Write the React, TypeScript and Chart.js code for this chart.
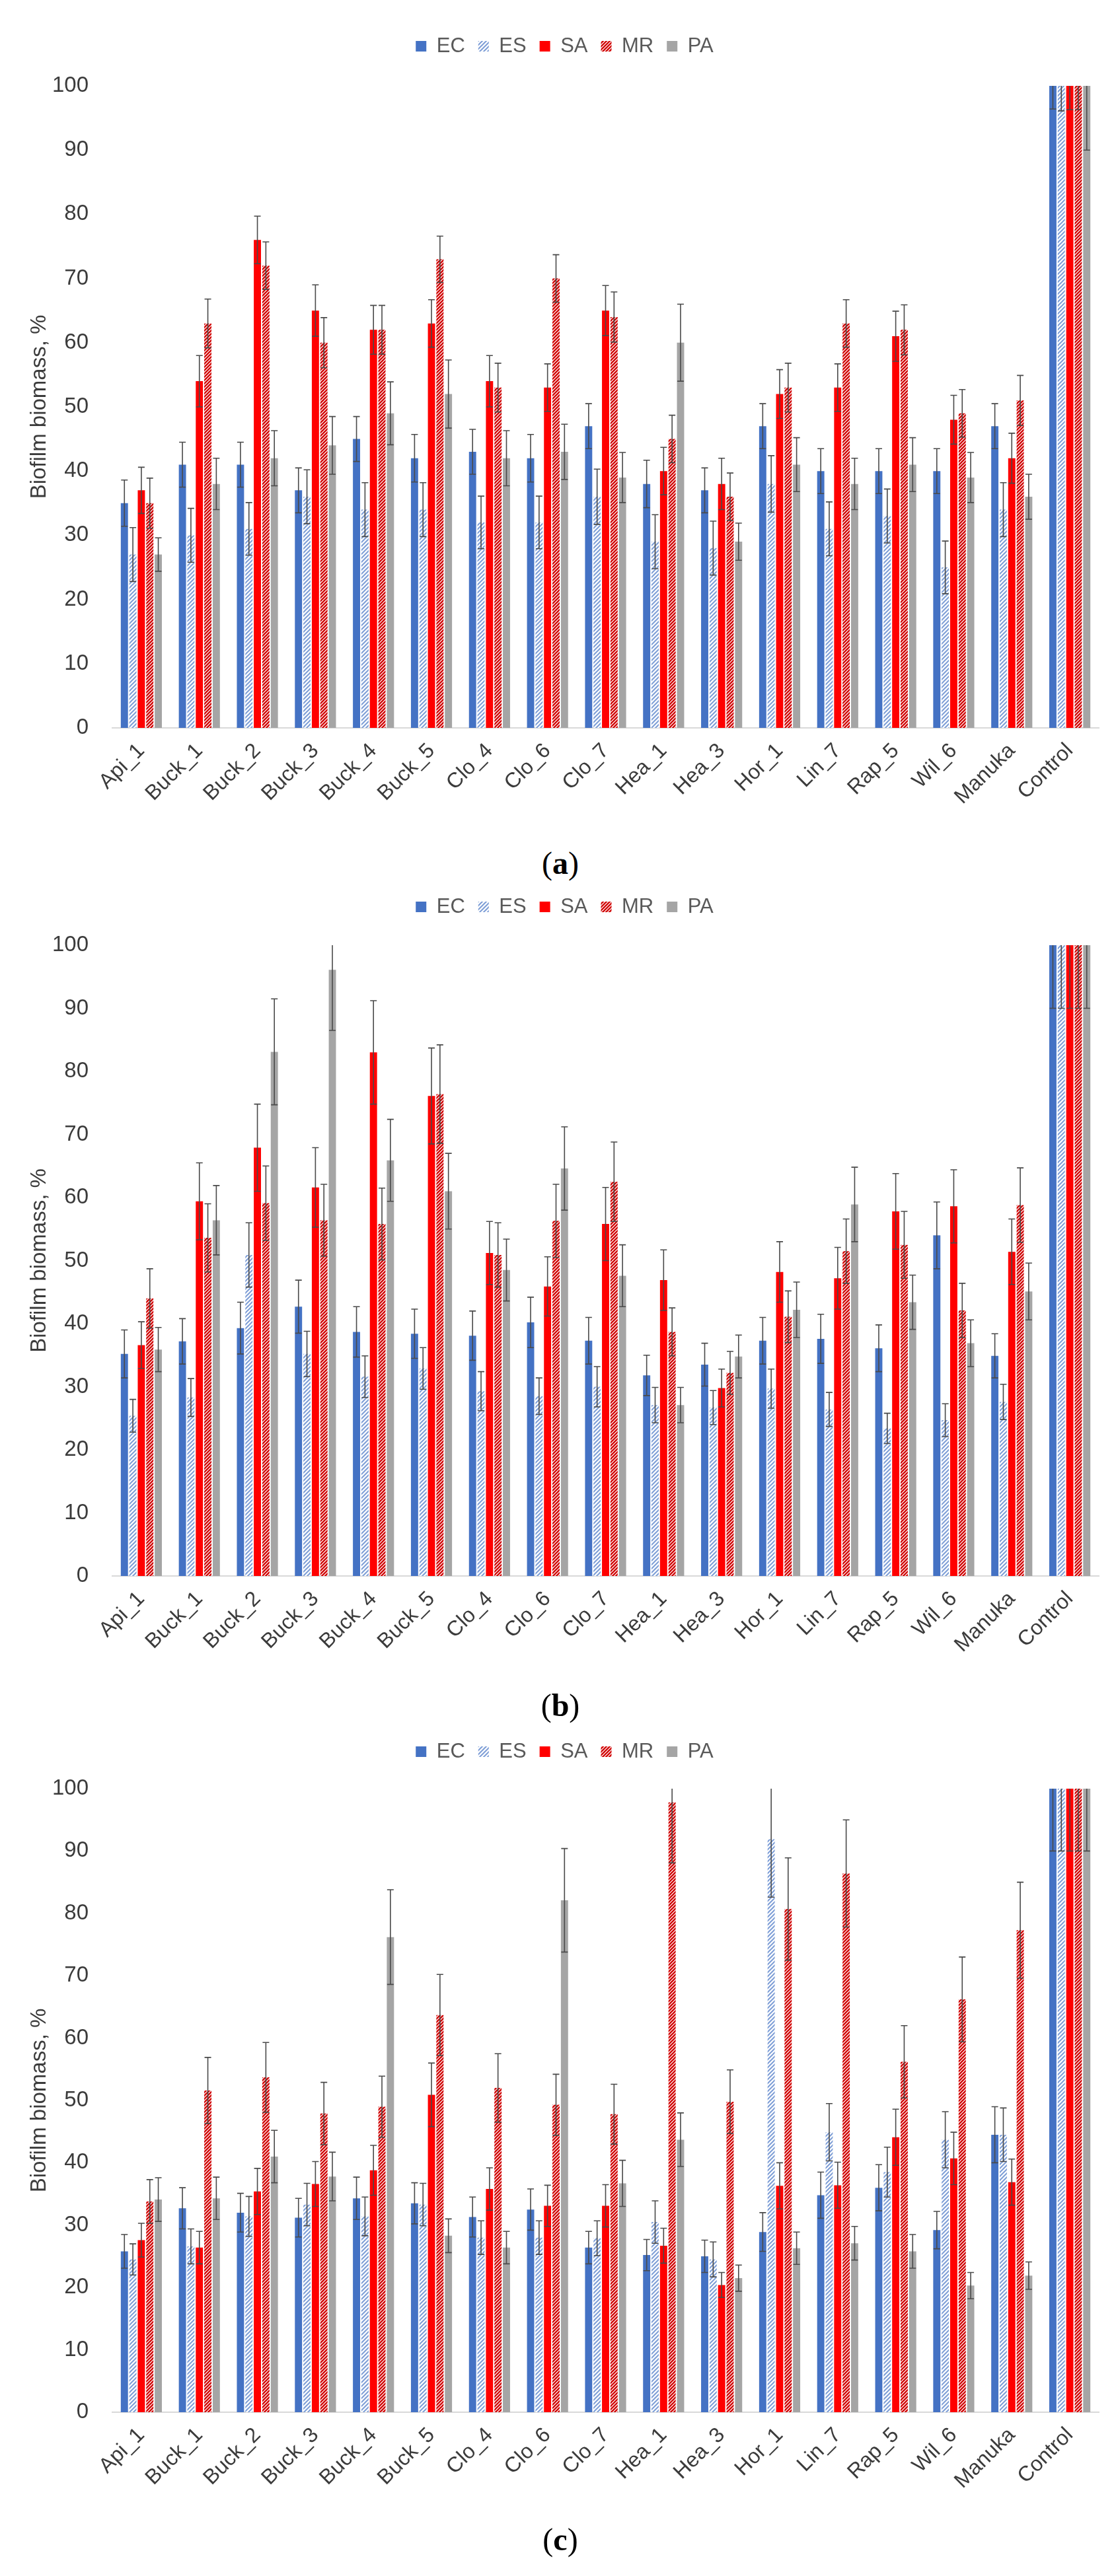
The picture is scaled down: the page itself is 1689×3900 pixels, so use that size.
import React, { useEffect, useRef } from 'react';
import { Chart, registerables } from 'chart.js';

Chart.register(...registerables);

const categories = ['Api_1', 'Buck_1', 'Buck_2', 'Buck_3', 'Buck_4', 'Buck_5', 'Clo_4', 'Clo_6', 'Clo_7', 'Hea_1', 'Hea_3', 'Hor_1', 'Lin_7', 'Rap_5', 'Wil_6', 'Manuka', 'Control'];
const seriesNames = ['EC', 'ES', 'SA', 'MR', 'PA'];
const yTicks = [0, 10, 20, 30, 40, 50, 60, 70, 80, 90, 100];
const yTitle = 'Biofilm biomass, %';

// Panel (a)
const ecA = [35, 41, 41, 37, 45, 42, 43, 42, 47, 38, 37, 47, 40, 40, 40, 47, 100];
const esA = [27, 30, 31, 36, 34, 34, 32, 32, 36, 29, 28, 38, 31, 33, 25, 34, 100];
const saA = [37, 54, 76, 65, 62, 63, 54, 53, 65, 40, 38, 52, 53, 61, 48, 42, 100];
const mrA = [35, 63, 72, 60, 62, 73, 53, 70, 64, 45, 36, 53, 63, 62, 49, 51, 100];
const paA = [27, 38, 42, 44, 49, 52, 42, 43, 39, 60, 29, 41, 38, 41, 39, 36, 100];
const ecAErr = [3.6, 3.5, 3.5, 3.5, 3.5, 3.7, 3.5, 3.7, 3.5, 3.7, 3.5, 3.5, 3.5, 3.5, 3.5, 3.5, 3.6];
const esAErr = [4.2, 4.2, 4.1, 4.2, 4.2, 4.2, 4.1, 4.1, 4.3, 4.2, 4.2, 4.4, 4.2, 4.2, 4.1, 4.2, 3.9];
const saAErr = [3.6, 4.0, 3.7, 4.0, 3.8, 3.7, 4.0, 3.7, 3.9, 3.7, 4.0, 3.8, 3.7, 3.9, 3.8, 3.9, 3.7];
const mrAErr = [3.9, 3.8, 3.7, 3.9, 3.8, 3.6, 3.8, 3.7, 3.9, 3.7, 3.7, 3.8, 3.7, 3.9, 3.7, 3.9, 3.7];
const paAErr = [2.6, 4.0, 4.3, 4.5, 4.9, 5.3, 4.3, 4.3, 3.9, 6.0, 2.9, 4.2, 4.0, 4.2, 3.9, 3.5, 10];

// Panel (b)
const ecB = [35.2, 37.2, 39.3, 42.7, 38.7, 38.4, 38.1, 40.2, 37.3, 31.8, 33.5, 37.3, 37.6, 36.1, 54.0, 34.9, 100];
const esB = [25.4, 28.3, 50.9, 35.2, 31.6, 32.9, 29.3, 28.5, 30.0, 27.1, 26.7, 29.7, 26.4, 23.4, 24.7, 27.6, 100];
const saB = [36.6, 59.4, 67.9, 61.6, 83.0, 76.1, 51.2, 45.9, 55.8, 46.9, 29.8, 48.2, 47.2, 57.8, 58.6, 51.4, 100];
const mrB = [44.0, 53.6, 59.1, 56.4, 55.8, 76.4, 50.9, 56.3, 62.5, 38.7, 32.2, 41.1, 51.5, 52.5, 42.1, 58.8, 100];
const paB = [35.9, 56.4, 83.1, 96.1, 65.9, 61.0, 48.5, 64.6, 47.6, 27.1, 34.8, 42.2, 58.9, 43.4, 36.9, 45.1, 100];
const ecBErr = [3.8, 3.6, 4.1, 4.2, 4.0, 3.9, 3.9, 4.0, 3.7, 3.2, 3.4, 3.7, 3.9, 3.7, 5.3, 3.5, 10];
const esBErr = [2.6, 3.0, 5.1, 3.6, 3.3, 3.3, 3.1, 2.9, 3.2, 2.8, 2.7, 3.1, 2.7, 2.4, 2.6, 2.8, 10];
const saBErr = [3.7, 6.1, 6.9, 6.3, 8.2, 7.6, 5.0, 4.7, 5.8, 4.8, 3.0, 4.8, 4.9, 6.0, 5.8, 5.2, 10];
const mrBErr = [4.7, 5.4, 5.9, 5.7, 5.7, 7.8, 5.1, 5.8, 6.3, 3.8, 3.4, 4.1, 5.1, 5.3, 4.3, 5.9, 10];
const paBErr = [3.5, 5.5, 8.4, 9.6, 6.5, 6.0, 4.9, 6.6, 4.9, 2.8, 3.4, 4.4, 5.9, 4.3, 3.7, 4.5, 10];

// Panel (c)
const ecC = [25.8, 32.7, 32.0, 31.2, 34.3, 33.5, 31.3, 32.5, 26.4, 25.2, 25.0, 28.9, 34.8, 36.0, 29.2, 44.5, 100];
const esC = [24.5, 26.6, 31.4, 33.3, 31.4, 33.3, 28.0, 28.0, 27.9, 30.5, 24.5, 91.9, 44.9, 38.5, 43.7, 44.5, 100];
const saC = [27.6, 26.4, 35.4, 36.6, 38.8, 50.9, 35.8, 33.1, 33.1, 26.7, 20.4, 36.3, 36.4, 44.1, 40.7, 36.9, 100];
const mrC = [33.8, 51.6, 53.7, 47.9, 49.0, 63.7, 52.0, 49.3, 47.8, 97.8, 49.8, 80.7, 86.4, 56.2, 66.2, 77.3, 100];
const paC = [34.1, 34.3, 41.0, 37.8, 76.2, 28.3, 26.4, 82.1, 36.7, 43.7, 21.5, 26.3, 27.1, 25.8, 20.3, 21.9, 100];
const ecCErr = [2.7, 3.3, 3.1, 3.1, 3.4, 3.3, 3.2, 3.3, 2.6, 2.5, 2.6, 3.1, 3.7, 3.7, 3.0, 4.5, 10];
const esCErr = [2.5, 2.8, 3.2, 3.4, 3.1, 3.4, 2.7, 2.7, 2.8, 3.4, 2.8, 9.3, 4.6, 4.0, 4.5, 4.3, 10];
const saCErr = [2.7, 2.6, 3.7, 3.6, 4.0, 5.1, 3.4, 3.3, 3.4, 2.8, 2.0, 3.7, 3.7, 4.5, 4.2, 3.7, 10];
const mrCErr = [3.5, 5.3, 5.6, 5.0, 4.9, 6.5, 5.5, 4.9, 4.8, 9.7, 5.1, 8.2, 8.6, 5.8, 6.8, 7.7, 10];
const paCErr = [3.5, 3.4, 4.2, 3.9, 7.6, 2.7, 2.6, 8.3, 3.7, 4.3, 2.1, 2.6, 2.7, 2.7, 2.1, 2.2, 10];

const FONT = '"Liberation Sans", Arial, Helvetica, sans-serif';
const TEXT = '#3b3b3b';

function makePattern(ctx: CanvasRenderingContext2D, color: string, size: number, lw: number) {
  const c = document.createElement('canvas');
  c.width = size;
  c.height = size;
  const g = c.getContext('2d') as CanvasRenderingContext2D;
  g.fillStyle = '#ffffff';
  g.fillRect(0, 0, size, size);
  g.strokeStyle = color;
  g.lineWidth = lw;
  g.beginPath();
  g.moveTo(0, size);
  g.lineTo(size, 0);
  g.moveTo(-size / 2, size / 2);
  g.lineTo(size / 2, -size / 2);
  g.moveTo(size / 2, size * 1.5);
  g.lineTo(size * 1.5, size / 2);
  g.stroke();
  return ctx.createPattern(c, 'repeat') as CanvasPattern;
}

const errorBarPlugin = {
  id: 'errorBars',
  afterDatasetsDraw(chart: any) {
    const { ctx, chartArea, scales } = chart;
    const y = scales.y;
    ctx.save();
    ctx.beginPath();
    ctx.rect(chartArea.left, chartArea.top, chartArea.right - chartArea.left, chartArea.bottom - chartArea.top + 1);
    ctx.clip();
    ctx.strokeStyle = '#4a4a4a';
    ctx.lineWidth = 1.6;
    chart.data.datasets.forEach((ds: any, i: number) => {
      const meta = chart.getDatasetMeta(i);
      meta.data.forEach((bar: any, j: number) => {
        const v = ds.data[j];
        const e = ds.errors[j];
        const yt = y.getPixelForValue(v + e);
        const yb = y.getPixelForValue(v - e);
        const x = bar.x;
        const cap = 5;
        ctx.beginPath();
        ctx.moveTo(x, yt);
        ctx.lineTo(x, yb);
        ctx.moveTo(x - cap, yt);
        ctx.lineTo(x + cap, yt);
        ctx.moveTo(x - cap, yb);
        ctx.lineTo(x + cap, yb);
        ctx.stroke();
      });
    });
    ctx.restore();
  },
};

// Fixes the legend box height (so the plot starts where it should) and nudges it sideways.
function legendTweak(boxHeight: number, dx: number) {
  return {
    id: 'legendTweak',
    afterInit(chart: any) {
      const lg = chart.legend;
      if (!lg) return;
      const fit = lg.fit.bind(lg);
      lg.fit = function () {
        fit();
        this.height = boxHeight;
      };
      const draw = lg.draw.bind(lg);
      lg.draw = function () {
        this.left += dx;
        this.right += dx;
        draw();
        this.left -= dx;
        this.right -= dx;
      };
    },
  };
}

type PanelProps = {
  top: number;
  plotTop: number;
  plotBottom: number;
  values: number[][];
  errors: number[][];
  letter: string;
  labelY: number;
};

const CANVAS_W = 1689;
const X_AXIS_H = 170;
const PAD_TOP = 34.5;

function Panel(props: PanelProps) {
  const ref = useRef<HTMLCanvasElement | null>(null);
  const canvasH = props.plotBottom + X_AXIS_H;

  useEffect(() => {
    const canvas = ref.current as HTMLCanvasElement;
    const ctx = canvas.getContext('2d') as CanvasRenderingContext2D;
    const esPat = makePattern(ctx, '#7E9ED6', 6, 2);
    const mrPat = makePattern(ctx, '#D10000', 5, 2.3);
    const fills: any[] = ['#4472C4', esPat, '#FF0000', mrPat, '#A5A5A5'];
    const chart = new Chart(canvas, {
      type: 'bar',
      data: {
        labels: categories,
        datasets: seriesNames.map((n, i) => ({
          label: n,
          data: props.values[i],
          errors: props.errors[i],
          backgroundColor: fills[i],
          borderWidth: 0,
          categoryPercentage: 0.73,
          barPercentage: 0.85,
        })) as any,
      },
      options: {
        responsive: false,
        animation: false,
        devicePixelRatio: 1,
        layout: { padding: { top: PAD_TOP, right: 26, left: 0, bottom: 0 } },
        plugins: {
          legend: {
            position: 'top',
            labels: {
              boxWidth: 16,
              boxHeight: 16,
              padding: 20,
              color: '#595959',
              font: { family: FONT, size: 31 },
            },
          },
          tooltip: { enabled: false },
        },
        scales: {
          x: {
            grid: { display: false },
            border: { display: true, color: '#d9d9d9', width: 2 },
            ticks: {
              autoSkip: false,
              maxRotation: 45,
              minRotation: 45,
              padding: 8,
              color: TEXT,
              font: { family: FONT, size: 32 },
            },
            afterFit: (s: any) => {
              s.height = X_AXIS_H;
            },
          },
          y: {
            min: 0,
            max: 100,
            afterBuildTicks: (s: any) => {
              s.ticks = yTicks.map((v) => ({ value: v }));
            },
            grid: { display: false },
            border: { display: false },
            ticks: {
              padding: 28,
              color: TEXT,
              font: { family: FONT, size: 33 },
            },
            title: {
              display: true,
              text: yTitle,
              color: TEXT,
              font: { family: FONT, size: 33 },
              padding: { top: 40, bottom: 0 },
            },
            afterFit: (s: any) => {
              s.width = 170;
            },
          },
        },
      } as any,
      plugins: [errorBarPlugin, legendTweak(props.plotTop - PAD_TOP, 23)],
    });
    return () => chart.destroy();
  }, []);

  return (
    <>
      <canvas
        ref={ref}
        width={CANVAS_W}
        height={canvasH}
        style={{ position: 'absolute', left: 0, top: props.top, width: CANVAS_W, height: canvasH }}
      />
      <div
        style={{
          position: 'absolute',
          left: 0,
          width: 1696,
          top: props.labelY - 30,
          height: 60,
          lineHeight: '60px',
          textAlign: 'center',
          fontFamily: '"Liberation Serif", "DejaVu Serif", serif',
          fontSize: 48,
          color: '#000',
        }}
      >
        (<b>{props.letter}</b>)
      </div>
    </>
  );
}

export default function App() {
  return (
    <div style={{ position: 'absolute', left: 0, top: 0, width: 1689, height: 3900, background: '#fff', overflow: 'hidden' }}>
      <Panel
        top={0}
        plotTop={130}
        plotBottom={1102}
        values={[ecA, esA, saA, mrA, paA]}
        errors={[ecAErr, esAErr, saAErr, mrAErr, paAErr]}
        letter="a"
        labelY={1307}
      />
      <Panel
        top={1303}
        plotTop={128}
        plotBottom={1083}
        values={[ecB, esB, saB, mrB, paB]}
        errors={[ecBErr, esBErr, saBErr, mrBErr, paBErr]}
        letter="b"
        labelY={2582}
      />
      <Panel
        top={2582}
        plotTop={126}
        plotBottom={1070}
        values={[ecC, esC, saC, mrC, paC]}
        errors={[ecCErr, esCErr, saCErr, mrCErr, paCErr]}
        letter="c"
        labelY={3845}
      />
    </div>
  );
}
